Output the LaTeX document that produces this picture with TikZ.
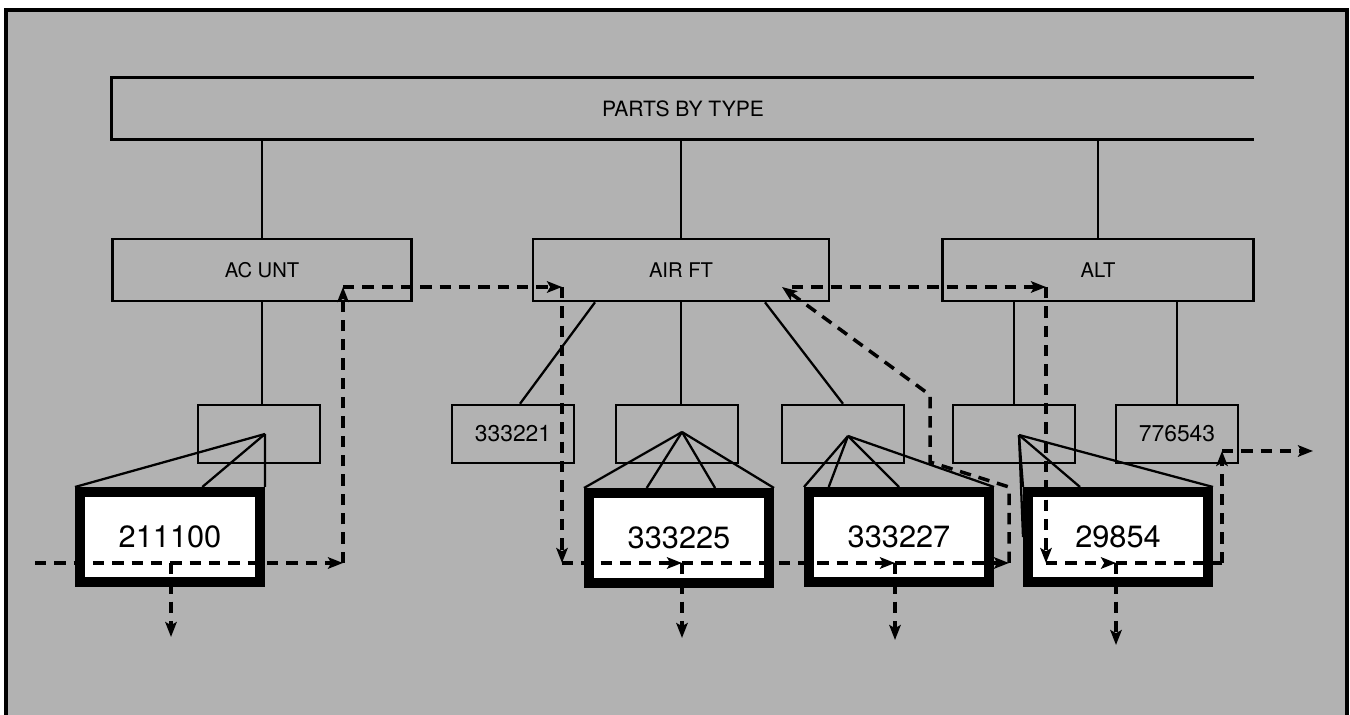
\documentclass[tikz,border=0pt]{standalone}
\usepackage{fontspec}
\setmainfont{TeX Gyre Heros}
\usetikzlibrary{arrows.meta, positioning, calc}
\definecolor{screen}{gray}{0.7}

\begin{document}
\begin{tikzpicture}[
    x=0.02cm, y=-0.02cm,
    group/.style={draw, line width=1.5pt, minimum height=1.24cm, inner sep=0pt, font=\fontsize{11.5}{13}\selectfont},
    leaf/.style={draw, line width=1.4pt, minimum width=2.44cm, minimum height=1.16cm, inner sep=0pt, font=\fontsize{13}{15}\selectfont},
    record/.style={draw, line width=5.7pt, fill=white, minimum width=3.6cm, minimum height=1.8cm, inner sep=0pt, font=\fontsize{17.5}{20}\selectfont},
    link/.style={line width=1.3pt},
    ptr/.style={line width=2pt, dash pattern=on 6.5pt off 4.5pt, -{Stealth[length=8.5pt, width=6.5pt, inset=1.8pt]}},
    ptrplain/.style={line width=2pt, dash pattern=on 6.5pt off 4.5pt}
]

\useasboundingbox (0,0) rectangle (1350,715);

% Screened page and frame
\fill[screen] (6,10) rectangle (1347,715);
\draw[line width=2pt] (6,715) -- (6,10) -- (1347,10) -- (1347,715);

% Root
\node[minimum width=22.84cm, minimum height=1.22cm, inner sep=0pt, font=\fontsize{12}{14}\selectfont] (parts) at (683,108.5) {PARTS BY TYPE};
\draw[line width=1.5pt] (parts.north east) -| (parts.south west) -- (parts.south east);

% Types
\node[group, minimum width=5.98cm] (acunt) at (262,270) {AC UNT};
\node[group, minimum width=5.92cm] (airft) at (681,270) {AIR FT};
\node[group, minimum width=6.22cm] (alt) at (1098,270) {ALT};

% Part numbers
\node[leaf] (acpart) at (259,434) {};
\node[leaf] (air1) at (513,434) {333221};
\node[leaf] (air2) at (677,434) {};
\node[leaf] (air3) at (843,434) {};
\node[leaf] (alt1) at (1014,434) {};
\node[leaf] (alt2) at (1177,434) {776543};

% Tree lines
\draw[link] (acunt.north) -- (acunt.north |- parts.south);
\draw[link] (airft.north) -- (airft.north |- parts.south);
\draw[link] (alt.north) -- (alt.north |- parts.south);
\draw[link] (acunt.south) -- (acunt.south |- acpart.north);
\draw[link] ($(airft.south)+(-86,0)$) -- ($(air1.north)+(7,0)$);
\draw[link] (airft.south) -- (airft.south |- air2.north);
\draw[link] ($(airft.south)+(84,0)$) -- (air3.north);
\draw[link] (alt1.north) -- (alt1.north |- alt.south);
\draw[link] (alt2.north) -- (alt2.north |- alt.south);

% Occurrences
\node[record] (rec1) at (170,537) {211100};
\node[record] (rec2) at (679,538) {333225};
\node[record] (rec3) at (899,537) {333227};
\node[record] (rec4) at (1118,537) {29854};

% Fans
\coordinate (tip1) at (265,434);
\coordinate (tip2) at (682,432);
\coordinate (tip3) at (848,436);
\coordinate (tip4) at (1019,435);
\foreach \p in {0, 0.67, 1}
    \draw[link] (tip1) -- ($(rec1.north west)!\p!(rec1.north east)$);
\foreach \p in {0, 0.33, 0.69, 1}
    \draw[link] (tip2) -- ($(rec2.north west)!\p!(rec2.north east)$);
\foreach \p in {0, 0.13, 0.5, 1}
    \draw[link] (tip3) -- ($(rec3.north west)!\p!(rec3.north east)$);
\foreach \p in {0, 0.3, 1}
    \draw[link] (tip4) -- ($(rec4.north west)!\p!(rec4.north east)$);
\draw[link] (tip4) -- (rec4.west);

% Pointer chain
\coordinate (entry) at (35,563);
\coordinate (mid1) at (171,563);
\coordinate (up1) at (343,563);
\coordinate (top1) at (343,287);
\coordinate (top2) at (562,287);
\coordinate (low2) at (562,563);
\coordinate (mid2) at (682,563);
\coordinate (mid3) at (895,563);
\coordinate (end3) at (1009,563);
\coordinate (bend1) at (1009,487);
\coordinate (bend2) at (930,462);
\coordinate (bend3) at (930,395);
\coordinate (back) at (782,287);
\coordinate (top3) at (792,287);
\coordinate (top4) at (1046,287);
\coordinate (low4) at (1046,563);
\coordinate (mid4) at (1116,563);
\coordinate (out4) at (1222,563);
\coordinate (up4) at (1222,451);
\coordinate (exit) at (1313,451);

\draw[ptr] (entry) -- (up1);
\draw[ptr] (up1) -- (top1);
\draw[ptr] (top1) -- (top2);
\draw[ptr] (top2) -- (low2);
\draw[ptr] (low2) -- (mid2);
\draw[ptr] (mid2) -- (mid3);
\draw[ptr] (mid3) -- (end3);
\draw[ptr] (end3) -- (bend1) -- (bend2) -- (bend3) -- (back);
\draw[ptr] (top3) -- (top4);
\draw[ptr] (top4) -- (low4);
\draw[ptr] (low4) -- (mid4);
\draw[ptrplain] (mid4) -- (out4);
\draw[ptr] (out4) -- (up4);
\draw[ptr] (up4) -- (exit);

% Drops
\foreach \m/\d in {mid1/637, mid2/638, mid3/640, mid4/645}
    \draw[ptr] (\m) -- (\m |- 0,\d);

\end{tikzpicture}
\end{document}
